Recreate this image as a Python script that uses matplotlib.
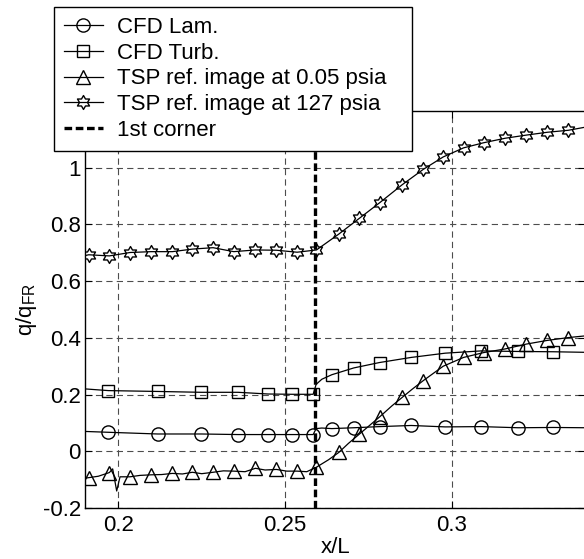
import numpy as np
import matplotlib
matplotlib.use("Agg")
import matplotlib.pyplot as plt
from matplotlib.path import Path

# ---------------- data ----------------
cfd_x = [0.190, 0.1970, 0.2118, 0.2249, 0.2359, 0.2449, 0.2521, 0.2584, 0.2593, 0.2610,
         0.2640, 0.2706, 0.2783, 0.2878, 0.2980, 0.3088, 0.3199, 0.3304, 0.340]
lam_y = [0.070, 0.067, 0.061, 0.061, 0.059, 0.059, 0.059, 0.059, 0.080, 0.082,
         0.080, 0.083, 0.087, 0.091, 0.086, 0.087, 0.083, 0.084, 0.083]
turb_y = [0.220, 0.214, 0.211, 0.208, 0.208, 0.202, 0.201, 0.201, 0.236, 0.254,
          0.270, 0.294, 0.313, 0.331, 0.346, 0.354, 0.352, 0.351, 0.349]
cfd_marks = [1, 2, 3, 4, 5, 6, 7, 10, 11, 12, 13, 14, 15, 16, 17]

tsp_lo_x = [0.1900, 0.1911, 0.1940, 0.1973, 0.1983, 0.1995, 0.2005, 0.2035, 0.2065, 0.2098,
            0.2130, 0.2162, 0.2192, 0.2222, 0.2250, 0.2284, 0.2315, 0.2346, 0.2380, 0.2411,
            0.2440, 0.2474, 0.2505, 0.2536, 0.2565, 0.2594, 0.2630, 0.2661, 0.2690, 0.2723,
            0.2750, 0.2784, 0.2820, 0.2851, 0.2880, 0.2914, 0.2974, 0.3035, 0.3095, 0.3160,
            0.3223, 0.3286, 0.3349, 0.3400]
tsp_lo_y = [-0.095, -0.093, -0.088, -0.075, -0.062, -0.140, -0.090, -0.090, -0.085, -0.083,
            -0.082, -0.078, -0.080, -0.074, -0.079, -0.074, -0.069, -0.070, -0.072, -0.060,
            -0.066, -0.064, -0.070, -0.070, -0.072, -0.056, -0.030, -0.004, 0.028, 0.061,
            0.088, 0.122, 0.160, 0.190, 0.218, 0.249, 0.300, 0.331, 0.348, 0.361,
            0.378, 0.391, 0.401, 0.407]
tsp_lo_marks = [1, 3, 7, 9, 11, 13, 15, 17, 19, 21, 23, 25, 27, 29, 31, 33, 35, 36, 37, 38,
                39, 40, 41, 42]

tsp_hi_x = [0.1900, 0.1911, 0.1973, 0.2035, 0.2098, 0.2162, 0.2222, 0.2284, 0.2346, 0.2411,
            0.2474, 0.2536, 0.2594, 0.2661, 0.2723, 0.2784, 0.2851, 0.2914, 0.2974, 0.3035,
            0.3095, 0.3160, 0.3223, 0.3286, 0.3349, 0.3400]
tsp_hi_y = [0.690, 0.693, 0.689, 0.701, 0.704, 0.704, 0.713, 0.718, 0.704, 0.710,
            0.709, 0.702, 0.710, 0.766, 0.822, 0.877, 0.940, 0.994, 1.038, 1.070,
            1.088, 1.104, 1.115, 1.125, 1.132, 1.143]
tsp_hi_marks = list(range(1, 25))

corner_x = 0.259

labels = ["CFD Lam.", "CFD Turb.", "TSP ref. image at 0.05 psia",
          "TSP ref. image at 127 psia", "1st corner"]
xticks = [0.2, 0.25, 0.3]
xticklabels = ["0.2", "0.25", "0.3"]
yticks = [-0.2, 0, 0.2, 0.4, 0.6, 0.8, 1.0]
yticklabels = ["-0.2", "0", "0.2", "0.4", "0.6", "0.8", "1"]

# ---------------- style ----------------
plt.rcParams["font.family"] = ["Liberation Sans", "DejaVu Sans"]
plt.rcParams["lines.scale_dashes"] = False
FS = 16

# hexagram marker
ang = np.deg2rad(90 + 30 * np.arange(12))
rad = np.where(np.arange(12) % 2 == 0, 1.0, 0.577)
verts = np.column_stack([rad * np.cos(ang), rad * np.sin(ang)])
verts = np.vstack([verts, verts[:1]])
codes = [Path.MOVETO] + [Path.LINETO] * 11 + [Path.CLOSEPOLY]
hexagram = Path(verts, codes)

fig = plt.figure(figsize=(5.84, 5.59), dpi=100)
ax = fig.add_axes([85 / 584, 51 / 559, 500.3 / 584, 397 / 559])

lw = 0.9
common = dict(color="black", lw=lw, mfc="none", mec="black", mew=1.0)
h1, = ax.plot(cfd_x, lam_y, marker="o", ms=9.5, markevery=cfd_marks, **common)
h2, = ax.plot(cfd_x, turb_y, marker="s", ms=8.5, markevery=cfd_marks, **common)
h3, = ax.plot(tsp_lo_x, tsp_lo_y, marker="^", ms=9.5, markevery=tsp_lo_marks, **common)
h4, = ax.plot(tsp_hi_x, tsp_hi_y, marker=hexagram, ms=10, markevery=tsp_hi_marks, **common)
h5 = ax.axvline(corner_x, color="black", lw=2.4, linestyle=(0, (5.5, 2.6)))

ax.set_xlim(0.19, 0.34)
ax.set_ylim(-0.2, 1.2)
ax.set_xticks(xticks)
ax.set_xticklabels(xticklabels)
ax.set_yticks(yticks)
ax.set_yticklabels(yticklabels)
ax.tick_params(direction="in", length=5, width=0.8, labelsize=FS, top=True, right=True)
ax.tick_params(axis="x", pad=5)
ax.tick_params(axis="y", pad=3)
ax.grid(True, color="0.3", lw=0.8, linestyle=(0, (4.5, 3.0)))
for s in ax.spines.values():
    s.set_linewidth(1.0)

ax.set_xlabel("x/L", fontsize=FS, labelpad=1)
ax.set_ylabel(r"q/q$_{\mathregular{FR}}$", fontsize=FS)
ax.yaxis.set_label_coords(-0.092, 0.5)

leg = ax.legend([h1, h2, h3, h4, h5], labels, loc="upper left",
                bbox_to_anchor=(54 / 584, 1 - 147 / 559, 358 / 584, 140 / 559),
                bbox_transform=fig.transFigure, mode="expand",
                fontsize=FS, frameon=True, fancybox=False, framealpha=1,
                edgecolor="black", handlelength=1.75, handletextpad=0.65,
                labelspacing=0.21, borderpad=0.45, borderaxespad=0)
leg.get_frame().set_linewidth(1.0)

fig.savefig("out.png", dpi=100)
